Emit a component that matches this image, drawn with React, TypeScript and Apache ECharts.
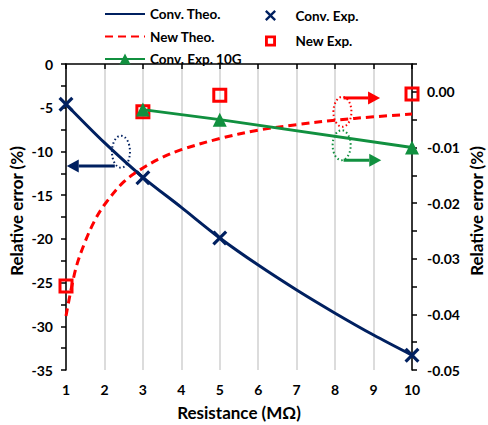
import React, { useEffect, useRef } from 'react';
import * as echarts from 'echarts';

// Resistance (MΩ) on the x axis
const resistance = [1, 2, 3, 4, 5, 6, 7, 8, 9, 10];
// Conv. Theo. – left axis (%)
const convTheo = [-4.6, -9.0, -12.96, -16.4, -19.9, -23.0, -25.85, -28.5, -31.0, -33.3];
// Conv. Exp. – left axis (%)
const convExpX = [1, 3, 5, 10];
const convExp = [-4.6, -13.0, -19.9, -33.3];
// New Theo. – right axis (%)
const newTheoX = [1, 1.25, 1.5, 1.75, 2, 2.5, 3, 3.5, 4, 5, 6, 7, 8, 9, 10];
const newTheo = [-0.0403, -0.0319, -0.0269, -0.0231, -0.0203, -0.0162, -0.0137, -0.0118, -0.0104, -0.0084, -0.0069, -0.0059, -0.0051, -0.0045, -0.0040];
// New Exp. – right axis (%)
const newExpX = [1, 3, 5, 10];
const newExp = [-0.0349, -0.0036, -0.0006, -0.0004];
// Conv. Exp. 10G – right axis (%)
const conv10GX = [3, 5, 10];
const conv10G = [-0.0032, -0.005, -0.01];

// annotation anchors in data units
const navyEllipse = [2.43, -10.03];
const navyArrow = [[2.27, -11.67], [1.02, -11.67]];
const redEllipse = [8.19, -0.0036];
const redArrow = [[8.22, -0.0011], [9.17, -0.0011]];
const greenEllipse = [8.17, -0.0096];
const greenArrow = [[8.22, -0.0123], [9.2, -0.0123]];

const NAVY = '#002060';
const RED = '#ff0000';
const GREEN = '#11903f';
const FONT = 'Lato';

const X_PATH = 'path://M1.5,0 L5,3.5 L8.5,0 L10,1.5 L6.5,5 L10,8.5 L8.5,10 L5,6.5 L1.5,10 L0,8.5 L3.5,5 L0,1.5 Z';
const SQUARE_ICON = 'path://M0,0H10V10H0Z M2.6,2.6V7.4H7.4V2.6Z';

const zip = (xs: number[], ys: number[]) => xs.map((x, i) => [x, ys[i]]);

export default function App() {
  const ref = useRef<HTMLDivElement>(null);
  useEffect(() => {
    if (!ref.current) return;
    const chart = echarts.init(ref.current, undefined, { renderer: 'svg' });
    const legendText = { fontFamily: FONT, fontWeight: 'bold' as const, fontSize: 13.5, color: '#000' };
    const nameStyle = { fontFamily: FONT, fontWeight: 'bold' as const, fontSize: 17, color: '#000' };
    chart.setOption({
      animation: false,
      backgroundColor: '#fff',
      grid: { left: 66, right: 76, top: 64, bottom: 55, outerBoundsMode: 'none', containLabel: false },
      legend: [
        {
          orient: 'vertical', left: 104, top: 7, padding: 0,
          itemWidth: 40, itemHeight: 14, itemGap: 8.5, textStyle: legendText,
          data: [
            { name: 'Conv. Theo.', itemStyle: { opacity: 0 } },
            { name: 'New Theo.', itemStyle: { opacity: 0 } },
            'Conv. Exp. 10G',
          ],
        },
        {
          orient: 'vertical', left: 265, top: 8.5, padding: 0,
          itemWidth: 40, itemHeight: 11, itemGap: 11.5, textStyle: legendText,
          data: [
            'Conv. Exp.',
            { name: 'New Exp.', icon: SQUARE_ICON, itemStyle: { color: RED, borderWidth: 0 } },
          ],
        },
      ],
      xAxis: {
        type: 'value',
        min: 1,
        max: 10,
        interval: 1,
        name: 'Resistance (MΩ)',
        nameLocation: 'middle',
        nameGap: 34,
        nameMoveOverlap: false,
        nameTextStyle: nameStyle,
        axisLine: { lineStyle: { color: '#000', width: 1.5 } },
        axisTick: { show: true, inside: false, length: 5, lineStyle: { color: '#000', width: 1.5 } },
        axisLabel: { fontFamily: FONT, fontWeight: 'bold', fontSize: 14, color: '#000', margin: 12 },
        splitLine: { show: true, lineStyle: { color: '#d0d0d0', width: 1.5 } },
      },
      yAxis: [
        {
          type: 'value',
          min: -35,
          max: 0,
          interval: 2.5,
          position: 'left',
          name: 'Relative error (%)',
          nameLocation: 'middle',
          nameRotate: 90,
          nameGap: 41,
          nameMoveOverlap: false,
          nameTextStyle: { ...nameStyle, padding: [0, 0, 0, 12] },
          axisLine: { show: true, lineStyle: { color: '#000', width: 1.5 } },
          axisTick: { show: true, length: 5, lineStyle: { color: '#000', width: 1.5 } },
          axisLabel: {
            fontFamily: FONT, fontWeight: 'bold', fontSize: 14, color: '#000', margin: 13,
            formatter: (v: number) => (Math.round(v * 10) % 50 === 0 ? String(Math.round(v)) : ''),
          },
          splitLine: { show: false },
        },
        {
          type: 'value',
          min: -0.05,
          max: 0.005,
          interval: 0.005,
          position: 'right',
          name: 'Relative error (%)',
          nameLocation: 'middle',
          nameRotate: 90,
          nameGap: 56,
          nameMoveOverlap: false,
          nameTextStyle: { ...nameStyle, padding: [0, 0, 0, 12] },
          axisLine: { show: true, lineStyle: { color: '#000', width: 1.5 } },
          axisTick: { show: true, length: 5, lineStyle: { color: '#000', width: 1.5 } },
          axisLabel: {
            fontFamily: FONT, fontWeight: 'bold', fontSize: 14, color: '#000', margin: 15,
            formatter: (v: number) => {
              const m = Math.round(v * 1000);
              if (m % 10 !== 0) return '';
              const s = (m / 1000).toFixed(2);
              return s === '-0.00' ? '0.00' : s;
            },
          },
          splitLine: { show: false },
        },
      ],
      series: [
        {
          name: 'Conv. Theo.',
          type: 'line',
          yAxisIndex: 0,
          data: zip(resistance, convTheo),
          smooth: 0.3,
          showSymbol: false,
          lineStyle: { color: NAVY, width: 3 },
          itemStyle: { color: NAVY },
          z: 2,
        },
        {
          name: 'New Theo.',
          type: 'line',
          yAxisIndex: 1,
          data: zip(newTheoX, newTheo),
          smooth: 0.35,
          showSymbol: false,
          lineStyle: { color: RED, width: 3, type: [8, 5] },
          itemStyle: { color: RED },
          z: 2,
        },
        {
          name: 'Conv. Exp. 10G',
          type: 'line',
          yAxisIndex: 1,
          data: zip(conv10GX, conv10G),
          symbol: 'triangle',
          symbolSize: 14,
          lineStyle: { color: GREEN, width: 3 },
          itemStyle: { color: GREEN },
          z: 4,
        },
        {
          name: 'Conv. Exp.',
          type: 'scatter',
          yAxisIndex: 0,
          data: zip(convExpX, convExp),
          symbol: X_PATH,
          symbolSize: 15,
          itemStyle: { color: NAVY, opacity: 1 },
          z: 5,
        },
        {
          name: 'New Exp.',
          type: 'scatter',
          yAxisIndex: 1,
          data: zip(newExpX, newExp),
          symbol: 'rect',
          symbolSize: 12,
          itemStyle: { color: 'rgba(255,255,255,0)', borderColor: RED, borderWidth: 3, opacity: 1 },
          z: 3,
        },
      ],
    });

    const pl = (p: number[]) => chart.convertToPixel({ xAxisIndex: 0, yAxisIndex: 0 }, p) as number[];
    const pr = (p: number[]) => chart.convertToPixel({ xAxisIndex: 0, yAxisIndex: 1 }, p) as number[];

    const ellipse = (c: number[], rx: number, ry: number, color: string) => ({
      type: 'ellipse',
      shape: { cx: c[0], cy: c[1], rx, ry },
      style: { fill: 'none', stroke: color, lineWidth: 2, lineDash: [1.5, 2.5] },
      z: 100,
    });
    const arrow = (a: number[], b: number[], color: string) => {
      const dir = Math.sign(b[0] - a[0]);
      const headLen = 12;
      const half = 6.5;
      const base = b[0] - dir * headLen;
      return [
        {
          type: 'line',
          shape: { x1: a[0], y1: a[1], x2: base, y2: b[1] },
          style: { stroke: color, lineWidth: 3 },
          z: 100,
        },
        {
          type: 'polygon',
          shape: { points: [[b[0], b[1]], [base, b[1] - half], [base, b[1] + half]] },
          style: { fill: color },
          z: 100,
        },
      ];
    };

    const ne = pl(navyEllipse);
    const re = pr(redEllipse);
    const ge = pr(greenEllipse);
    chart.setOption({
      graphic: [
        ellipse(ne, 9, 16, NAVY),
        ...arrow(pl(navyArrow[0]), pl(navyArrow[1]), NAVY),
        ellipse(re, 9, 15, RED),
        ...arrow(pr(redArrow[0]), pr(redArrow[1]), RED),
        ellipse(ge, 9, 15, GREEN),
        ...arrow(pr(greenArrow[0]), pr(greenArrow[1]), GREEN),
      ],
    });

    return () => chart.dispose();
  }, []);
  return <div ref={ref} style={{ position: 'fixed', left: 0, top: 0, width: 488, height: 425 }} />;
}
